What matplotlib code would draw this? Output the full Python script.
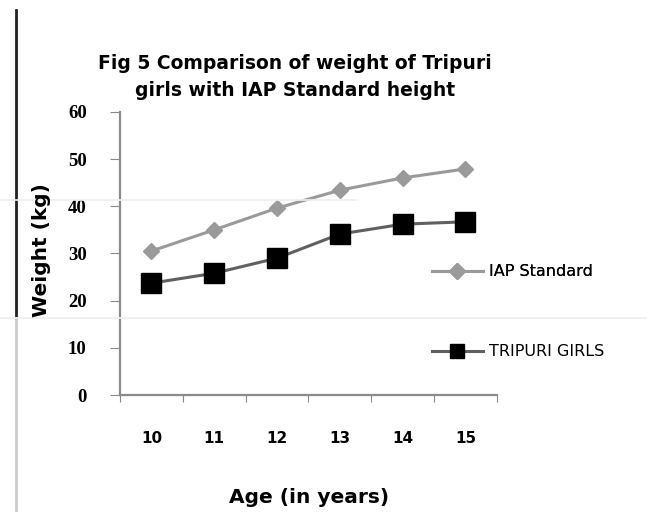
import numpy as np
import matplotlib.pyplot as plt
from matplotlib.lines import Line2D

# data
ages = [10, 11, 12, 13, 14, 15]
iap_standard = [30.5, 35.0, 39.6, 43.4, 46.0, 47.9]
tripuri_girls = [23.7, 25.8, 29.0, 34.1, 36.2, 36.7]
y_ticks = [0, 10, 20, 30, 40, 50, 60]

fig = plt.figure(figsize=(6.47, 5.13), dpi=100)
ax = fig.add_axes([0.1855, 0.230, 0.5825, 0.552])

x = np.arange(len(ages))
ax.plot(x, iap_standard, color='#9a9a9a', lw=2.2, marker='D', ms=8.5,
        mfc='#9a9a9a', mec='#9a9a9a', label='IAP Standard')
ax.plot(x, tripuri_girls, color='#606060', lw=2.2, marker='s', ms=14,
        mfc='black', mec='black', label='TRIPURI GIRLS')

ax.set_xlim(-0.5, len(ages) - 0.5)
ax.set_ylim(0, 60)
ax.set_yticks(y_ticks)
ax.set_yticklabels([str(v) for v in y_ticks], fontfamily='Liberation Serif',
                   fontweight='bold', fontsize=13.5)
ax.set_xticks(np.arange(-0.5, len(ages)), minor=False)
ax.set_xticklabels([])
ax.set_xticks(x, minor=True)
ax.set_xticklabels([str(a) for a in ages], minor=True, fontweight='bold',
                   fontsize=11)
ax.tick_params(axis='x', which='minor', length=0, pad=26)
ax.tick_params(axis='x', which='major', length=5, color='#888888')
ax.tick_params(axis='y', length=7, color='#888888', pad=17)

for s in ['top', 'right']:
    ax.spines[s].set_visible(False)
for s in ['left', 'bottom']:
    ax.spines[s].set_color('#8a8a8a')
    ax.spines[s].set_linewidth(1.6)

fig.text(0.477, 0.030, 'Age (in years)', fontsize=14.5, fontweight='bold',
         ha='center', va='center')
fig.text(0.064, 0.512, 'Weight (kg)', rotation=90, fontsize=14.5,
         fontweight='bold', ha='center', va='center')

fig.text(0.456, 0.877, 'Fig 5 Comparison of weight of Tripuri', fontsize=13.5,
         fontweight='bold', ha='center', va='center')
fig.text(0.456, 0.823, 'girls with IAP Standard height', fontsize=13.5,
         fontweight='bold', ha='center', va='center')

# legend entries placed to the right of the plot
h1 = Line2D([], [], color='#9a9a9a', lw=2.2, marker='D', ms=8,
            mfc='#9a9a9a', mec='#9a9a9a')
h2 = Line2D([], [], color='#606060', lw=2.2, marker='s', ms=10,
            mfc='black', mec='black')
leg1 = fig.legend([h1], ['IAP Standard'], loc='center left',
                  bbox_to_anchor=(0.645, 0.47), frameon=False, fontsize=11.5,
                  handlelength=3.2, handletextpad=0.4)
fig.add_artist(leg1)
fig.legend([h2], ['TRIPURI GIRLS'], loc='center left',
           bbox_to_anchor=(0.645, 0.314), frameon=False, fontsize=11.5,
           handlelength=3.2, handletextpad=0.4)

# scan artefacts: left border line and faint horizontal streaks
fig.add_artist(Line2D([0.025, 0.025], [0.38, 0.98], color='#222222', lw=2))
fig.add_artist(Line2D([0.025, 0.025], [0.005, 0.38], color='#cccccc', lw=2))
fig.add_artist(Line2D([0.0, 1.0], [0.38, 0.38], color='#eeeeee', lw=1.2))
fig.add_artist(Line2D([0.0, 0.55], [0.61, 0.61], color='#eeeeee', lw=1.2))

fig.savefig('out.png', dpi=100)
